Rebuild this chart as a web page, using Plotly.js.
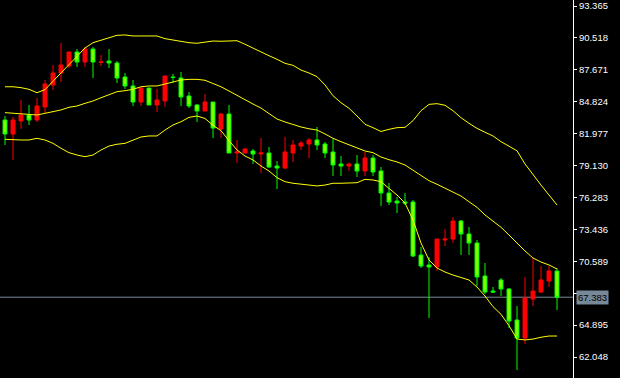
<!DOCTYPE html>
<html><head><meta charset="utf-8">
<script src="https://cdn.plot.ly/plotly-3.0.1.min.js"></script>
<style>html,body{margin:0;padding:0;background:#000;}#chart{width:620px;height:378px;}</style>
</head><body><div id="chart"></div>
<script>
const opens = [83.194,81.945,83.104,83.640,83.194,84.353,86.316,87.387,88.011,89.261,
88.368,89.528,88.324,88.458,88.279,87.030,86.227,84.800,86.049,84.532,
84.889,87.030,86.941,85.335,84.532,83.997,84.800,82.391,83.729,80.249,
80.249,80.428,80.160,80.249,79.089,78.911,80.249,80.874,81.052,81.409,
81.052,80.339,79.268,79.089,79.268,78.643,79.803,78.643,76.681,75.967,
75.878,75.878,71.149,70.257,70.078,72.487,72.576,74.182,73.023,72.220,
69.275,67.937,68.918,68.115,65.350,63.744,67.223,67.848,68.829,69.721];
const highs = [83.550,83.461,84.978,84.532,85.156,86.762,88.101,90.064,89.261,89.528,
89.707,89.707,88.993,89.528,88.458,87.387,86.762,86.049,86.049,85.959,
87.119,87.298,87.476,85.692,84.621,85.513,84.800,83.818,84.532,81.409,
80.695,80.606,81.588,80.785,79.536,81.677,81.409,81.320,81.588,82.569,
81.231,81.498,79.982,79.357,80.071,80.339,80.071,79.000,77.573,76.324,
76.681,76.056,71.863,70.970,72.576,73.469,74.539,74.272,73.647,72.487,
70.435,68.294,69.097,68.205,66.599,69.186,70.881,70.167,70.167,69.989];
const lows = [80.963,79.625,82.391,82.747,83.015,83.818,85.870,86.584,87.833,87.922,
87.922,86.941,88.011,87.833,86.495,85.959,84.443,84.443,84.532,83.907,
84.353,86.495,84.443,84.264,83.015,83.997,81.588,81.588,80.249,79.357,
80.249,79.268,78.465,78.911,77.037,78.822,79.446,80.517,79.803,80.517,
79.803,78.197,78.197,78.643,78.108,78.197,78.197,75.521,75.610,74.896,
75.610,70.970,69.989,65.528,69.721,71.952,72.220,71.149,71.149,68.383,
67.669,67.759,67.491,64.636,60.889,63.208,66.599,67.759,68.294,66.242];
const closes = [81.945,83.194,83.640,83.194,84.443,86.406,87.387,88.101,89.261,88.368,
89.528,88.368,88.368,88.279,86.941,86.227,84.800,86.049,84.532,84.978,
87.119,86.985,85.246,84.443,83.997,84.800,82.480,83.729,80.249,80.339,
80.606,80.160,80.249,79.000,78.911,80.339,80.963,81.142,81.409,80.963,
80.249,79.179,79.089,79.268,78.643,79.803,78.554,76.681,75.878,75.788,
75.788,71.060,70.167,70.078,72.576,72.576,74.182,73.023,72.220,69.186,
67.848,67.848,68.115,65.260,63.744,67.312,67.937,68.918,69.721,67.383];
const bandUpper = [86.16,86.16,86.08,85.93,85.63,85.90,86.65,87.39,88.13,88.88,
89.62,90.09,90.33,90.54,90.75,90.78,90.69,90.69,90.69,90.69,
90.45,90.33,90.24,90.09,90.04,90.15,90.24,90.22,90.27,90.27,
89.95,89.59,89.26,88.93,88.61,88.25,88.07,87.65,87.39,87.06,
86.32,85.36,84.74,84.24,83.55,82.81,82.51,82.17,82.36,82.51,
82.54,83.13,84.02,84.59,84.65,84.51,84.02,83.40,82.90,82.45,
82.10,81.77,81.26,80.87,80.45,79.27,78.29,77.39,76.50,75.61];
const bandMiddle = [83.85,83.79,83.79,83.73,83.64,83.79,83.93,84.09,84.33,84.44,
84.68,84.89,85.18,85.42,85.72,85.81,85.93,86.16,86.23,86.23,
86.41,86.61,86.76,86.82,86.82,86.74,86.47,86.16,85.78,85.38,
85.00,84.62,84.26,83.73,83.28,83.02,82.79,82.57,82.41,82.30,
81.95,81.56,81.26,80.96,80.72,80.43,80.28,79.89,79.65,79.45,
79.18,78.73,78.22,77.78,77.46,77.10,76.77,76.41,75.90,75.40,
74.72,74.21,73.62,72.93,72.19,71.51,70.88,70.52,70.26,69.90];
const bandLower = [81.47,81.41,81.41,81.41,81.56,81.41,81.11,80.67,80.28,80.07,
79.92,80.07,80.52,80.87,81.03,81.11,81.41,81.68,81.77,81.77,
82.30,82.75,83.04,83.43,83.55,83.33,82.72,82.24,81.35,80.52,
79.98,79.63,79.09,78.64,78.05,77.69,77.55,77.46,77.39,77.31,
77.39,77.55,77.55,77.55,77.60,77.90,77.84,77.69,77.08,76.50,
75.79,74.27,72.22,70.70,69.99,69.63,69.36,69.14,68.92,68.29,
67.49,66.54,65.86,64.84,63.65,63.57,63.65,63.81,63.92,63.92];
const tickLabels = ['93.365','90.518','87.671','84.824','81.977','79.130','76.283','73.436','70.589','67.742','64.895','62.048'];

const idx = closes.map((_, i) => i);
const lastClose = closes[closes.length - 1];
const FONT = 'Liberation Sans, Arial, sans-serif';

const bandStyle = {color: '#FFFF00', width: 1};
const traces = [
  {type: 'scatter', mode: 'lines', x: idx, y: bandUpper, line: bandStyle, hoverinfo: 'skip'},
  {type: 'scatter', mode: 'lines', x: idx, y: bandMiddle, line: bandStyle, hoverinfo: 'skip'},
  {type: 'scatter', mode: 'lines', x: idx, y: bandLower, line: bandStyle, hoverinfo: 'skip'},
  {type: 'candlestick', x: idx, open: opens, high: highs, low: lows, close: closes,
   increasing: {line: {color: '#FF0000', width: 1}, fillcolor: '#FF0000'},
   decreasing: {line: {color: '#00FF00', width: 1}, fillcolor: '#7FFF00'},
   whiskerwidth: 0, hoverinfo: 'skip'}
];

const layout = {
  width: 620, height: 378,
  margin: {l: 0, r: 47, t: 0, b: 0, pad: 0},
  paper_bgcolor: '#000', plot_bgcolor: '#000',
  showlegend: false,
  xaxis: {visible: false, range: [-0.625, 71], rangeslider: {visible: false}, fixedrange: true},
  yaxis: {side: 'right', range: [60.175, 93.900], showgrid: false, zeroline: false,
    showline: true, linecolor: '#FFFFFF', linewidth: 1,
    ticks: 'outside', ticklen: 3, tickwidth: 1, tickcolor: '#FFFFFF',
    tickmode: 'array', tickvals: tickLabels.map(Number), ticktext: tickLabels,
    tickfont: {family: FONT, size: 9.5, color: '#FFFFFF'}, fixedrange: true},
  shapes: [{type: 'line', xref: 'paper', x0: 0, x1: 1, yref: 'y', y0: lastClose, y1: lastClose,
    line: {color: '#778899', width: 1}, layer: 'below'}],
  annotations: [{xref: 'paper', x: 1, xanchor: 'left', xshift: 3, yref: 'y', y: lastClose, yanchor: 'middle',
    text: lastClose.toFixed(3), showarrow: false, bgcolor: '#778899', borderpad: 1,
    font: {family: FONT, size: 9.5, color: '#000000'}}]
};

Plotly.newPlot('chart', traces, layout, {staticPlot: true, displayModeBar: false});
</script></body></html>
